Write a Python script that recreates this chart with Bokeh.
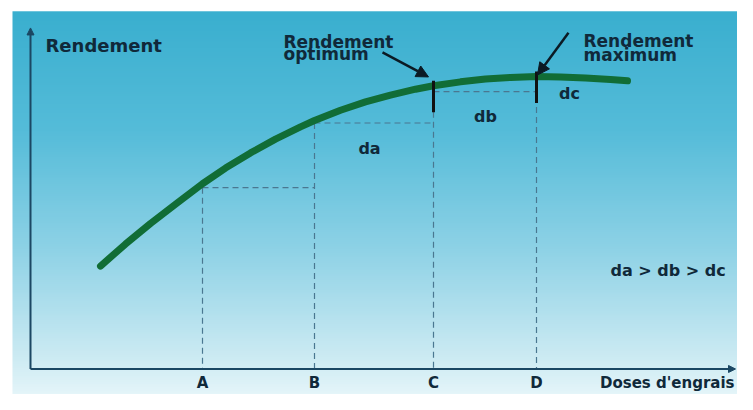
import numpy as np
from bokeh.plotting import figure
from bokeh.models import Range1d, Arrow, NormalHead
from bokeh.core.properties import value
from bokeh.embed import file_html
from bokeh.resources import INLINE

# ---------------- data ----------------
curve_dose = [7.0, 9.5, 12.0, 14.5, 17.2, 19.5, 22.0, 24.5, 27.0, 28.4, 31.0, 33.5,
              36.0, 38.5, 40.3, 43.0, 45.5, 48.0, 50.6, 53.0, 55.5, 58.0, 59.7]
curve_yield = [10.5, 12.75, 14.85, 16.8, 18.9, 20.5, 22.05, 23.45, 24.7, 25.35, 26.4, 27.25,
               27.95, 28.55, 28.9, 29.3, 29.6, 29.75, 29.85, 29.8, 29.7, 29.55, 29.4]

dose_labels = ["A", "B", "C", "D"]
dose_levels = [17.2, 28.4, 40.3, 50.6]
yield_levels = [18.5, 25.1, 28.3, 29.8]
curve_at_marks = [28.9, 29.85]          # curve height at C and D

x_title = "Doses d'engrais"
y_title = "Rendement"
diff_labels = ["da", "db", "dc"]
summary = "da > db > dc"

# ---------------- styles ----------------
FONT = value("DejaVu Sans")
TXT = "#10293a"
AXIS = "#1b4763"
GREEN = "#116d36"
DASH = "#4a7790"

Y0, Y1 = -2.604, 37.6
p = figure(width=737, height=394, x_range=Range1d(-3.0, 70.7), y_range=Range1d(Y0, Y1),
           output_backend="svg", toolbar_location=None, x_axis_type=None, y_axis_type=None,
           min_border=0)
p.outline_line_color = None
p.background_fill_color = "white"
p.border_fill_color = "white"
p.grid.grid_line_color = None

# background gradient (vertical)
rows = 200
stop_pos = np.array([0.0, 0.31, 0.62, 0.885, 1.0])       # from top to bottom
stop_col = np.array([[58, 175, 207], [85, 188, 217], [142, 210, 230],
                     [200, 233, 242], [228, 245, 249]], dtype=float)
t = np.linspace(1.0, 0.0, rows)   # row 0 is bottom
img = np.empty((rows, 1), dtype=np.uint32)
view = img.view(dtype=np.uint8).reshape((rows, 1, 4))
for c in range(3):
    view[:, 0, c] = np.interp(t, stop_pos, stop_col[:, c]).astype(np.uint8)
view[:, 0, 3] = 255
p.image_rgba(image=[img], x=-1.8, y=Y0, dw=72.5, dh=36.5 - Y0)

# dashed guide lines
vx0 = dose_levels
vy0 = yield_levels
vy1 = [0] * len(dose_levels)
p.segment(x0=vx0, y0=vy0, x1=vx0, y1=vy1, line_color=DASH, line_width=1.2, line_dash="6 4")
p.segment(x0=dose_levels[:-1], y0=yield_levels[:-1], x1=dose_levels[1:], y1=yield_levels[:-1],
          line_color=DASH, line_width=1.2, line_dash="6 4")

# curve
p.line(curve_dose, curve_yield, line_color=GREEN, line_width=7, line_cap="round", line_join="round")

# black marks at C and D
mx = dose_levels[2:]
p.segment(x0=mx, y0=[v + 0.5 for v in curve_at_marks], x1=mx, y1=[v - 2.7 for v in curve_at_marks],
          line_color="#111111", line_width=3)

# axes with arrows
p.add_layout(Arrow(x_start=0, y_start=0, x_end=0, y_end=34.8, line_color=AXIS, line_width=2,
                   end=NormalHead(size=7, fill_color=AXIS, line_color=AXIS)))
p.add_layout(Arrow(x_start=0, y_start=0, x_end=70.5, y_end=0, line_color=AXIS, line_width=2,
                   end=NormalHead(size=7, fill_color=AXIS, line_color=AXIS)))

# callout arrows
p.add_layout(Arrow(x_start=35.2, y_start=32.3, x_end=39.8, y_end=29.8, line_color="#0b1a24",
                   line_width=2.5, end=NormalHead(size=12, fill_color="#0b1a24", line_color="#0b1a24")))
p.add_layout(Arrow(x_start=53.8, y_start=34.3, x_end=50.7, y_end=30.0, line_color="#0b1a24",
                   line_width=2.5, end=NormalHead(size=12, fill_color="#0b1a24", line_color="#0b1a24")))

def txt(x, y, s, size="17px", align="left", baseline="alphabetic"):
    p.text(x=[x], y=[y], text=[s], text_font=FONT, text_font_style="bold", text_font_size=size,
           text_color=TXT, text_align=align, text_baseline=baseline)

# titles
txt(1.5, 33.0, y_title, size="18px", baseline="middle")
txt(70.4, -1.45, x_title, size="15px", align="right", baseline="middle")
for lab, d in zip(dose_labels, dose_levels):
    txt(d, -1.45, lab, size="15px", align="center", baseline="middle")

# annotations
txt(25.3, 33.4, "Rendement", size="17px")
txt(25.3, 32.1, "optimum", size="17px")
txt(55.3, 33.5, "Rendement", size="17px")
txt(55.3, 32.0, "maximum", size="17px")
txt(33.9, 22.5, diff_labels[0], size="16px", align="center", baseline="middle")
txt(45.5, 25.8, diff_labels[1], size="16px", align="center", baseline="middle")
txt(53.9, 28.1, diff_labels[2], size="16px", align="center", baseline="middle")
txt(58.0, 10.1, summary, size="16px", baseline="middle")

open("out.html", "w").write(file_html(p, INLINE))
